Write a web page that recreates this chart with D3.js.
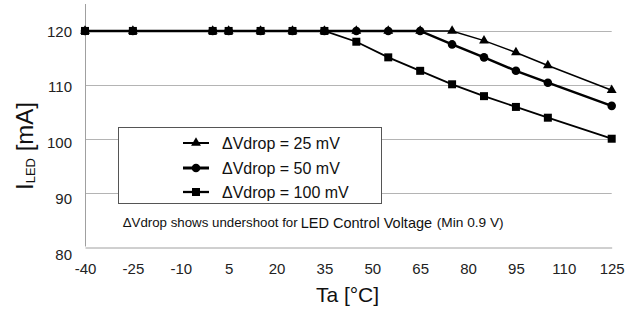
<!DOCTYPE html>
<html>
<head>
<meta charset="utf-8">
<script src="https://cdn.jsdelivr.net/npm/d3@7"></script>
<style>
  body { margin: 0; background: white; }
  svg, svg text { font-family: "Liberation Sans", Arial, sans-serif; }
  svg { display: block; }
  .grid { stroke: #b4b4b4; stroke-width: 1; }
  .axisline { stroke: #a0a0a0; stroke-width: 1; }
  .tick text { fill: #222; font-size: 15px; }
</style>
</head>
<body>
<div id="chart"></div>
<script>
// temperatures (°C) measured
var temps = [-40, -25, 0, 5, 15, 25, 35, 45, 55, 65, 75, 85, 95, 105, 125];
// I_LED (mA) for each drop
var drop25  = [120, 120, 120, 120, 120, 120, 120, 120, 120, 120, 120, 118.2, 116.0, 113.6, 109.0];
var drop50  = [120, 120, 120, 120, 120, 120, 120, 120, 120, 120, 117.5, 115.1, 112.6, 110.4, 106.1];
var drop100 = [120, 120, 120, 120, 120, 120, 120, 118.0, 115.1, 112.6, 110.1, 107.9, 105.9, 103.9, 100.0];

var seriesNames = ["\u0394Vdrop = 25 mV", "\u0394Vdrop = 50 mV", "\u0394Vdrop = 100 mV"];
var xTicks = [-40, -25, -10, 5, 20, 35, 50, 65, 80, 95, 110, 125];
var yTicks = [80, 90, 100, 110, 120];
var gridTicks = [90, 100, 110, 120];

var width = 642, height = 311;

var x = d3.scaleLinear().domain([-40, 125]).range([85, 611.7]);
var y = d3.scaleLinear().domain([80, 125]).range([246.5, 4]);
// labels in the source sit slightly lower than their gridlines
var yLab = d3.scaleLinear().domain([80, 120]).range([254.5, 31.3]);

var svg = d3.select("#chart").append("svg")
    .attr("width", width)
    .attr("height", height);

// gridlines
svg.selectAll("line.grid")
    .data(gridTicks)
    .enter().append("line")
    .attr("class", "grid")
    .attr("x1", x(-40)).attr("x2", x(125))
    .attr("y1", function(d) { return Math.round(y(d)) + 0.5; })
    .attr("y2", function(d) { return Math.round(y(d)) + 0.5; });

// left axis line
svg.append("line").attr("class", "axisline")
    .attr("x1", Math.round(x(-40)) + 0.5).attr("x2", Math.round(x(-40)) + 0.5)
    .attr("y1", y(125)).attr("y2", y(80));

// x axis
var xAxis = svg.append("g")
    .attr("transform", "translate(0," + (Math.round(y(80)) + 0.5) + ")")
    .call(d3.axisBottom(x).tickValues(xTicks).tickSize(0).tickPadding(16).tickFormat(function(d) { return String(d); }));
xAxis.attr("font-family", null).attr("font-size", null);
xAxis.select(".domain").attr("stroke", "#a0a0a0");

// y axis labels
var yAxis = svg.append("g")
    .attr("transform", "translate(85,0)")
    .call(d3.axisLeft(yLab).tickValues(yTicks).tickSize(0).tickPadding(13).tickFormat(function(d) { return String(d); }));
yAxis.attr("font-family", null).attr("font-size", null);
yAxis.select(".domain").remove();

// series
var series = [
    { name: seriesNames[0], values: drop25, symbol: d3.symbolTriangle, size: 42, width: 1.5 },
    { name: seriesNames[1], values: drop50, symbol: d3.symbolCircle, size: 58, width: 2.5 },
    { name: seriesNames[2], values: drop100, symbol: d3.symbolSquare, size: 64, width: 1.8 }
];

var line = d3.line()
    .x(function(d, i) { return x(temps[i]); })
    .y(function(d) { return y(d); });

series.forEach(function(s) {
    svg.append("path")
        .attr("d", line(s.values))
        .attr("fill", "none")
        .attr("stroke", "#000")
        .attr("stroke-width", s.width);
    var sym = d3.symbol().type(s.symbol).size(s.size);
    svg.selectAll(null)
        .data(s.values)
        .enter().append("path")
        .attr("d", sym)
        .attr("fill", "#000")
        .attr("transform", function(d, i) { return "translate(" + x(temps[i]) + "," + y(d) + ")"; });
});

// legend
var legend = svg.append("g");
legend.append("rect")
    .attr("x", 118.5).attr("y", 127.5)
    .attr("width", 263).attr("height", 76)
    .attr("fill", "white")
    .attr("stroke", "#555")
    .attr("stroke-width", 1);

var rowY = [143, 168, 192];
series.forEach(function(s, i) {
    var g = legend.append("g").attr("transform", "translate(0," + rowY[i] + ")");
    g.append("line")
        .attr("x1", 183).attr("x2", 209)
        .attr("stroke", "#000").attr("stroke-width", s.width + 0.5);
    g.append("path")
        .attr("d", d3.symbol().type(s.symbol).size(s.size)())
        .attr("transform", "translate(196,0)");
    g.append("text")
        .attr("x", 222).attr("y", 5.8)
        .attr("font-size", "16px")
        .attr("fill", "#111")
        .text(s.name);
});

// note
svg.append("text")
    .attr("x", 122.7).attr("y", 227)
    .attr("font-size", "12.5px").attr("fill", "#111")
    .attr("textLength", 175).attr("lengthAdjust", "spacingAndGlyphs")
    .text("\u0394Vdrop shows undershoot for");
svg.append("text")
    .attr("x", 300.7).attr("y", 227.5)
    .attr("font-size", "14.5px").attr("fill", "#111")
    .text("LED Control Voltage");
svg.append("text")
    .attr("x", 436.7).attr("y", 227)
    .attr("font-size", "13px").attr("fill", "#111")
    .attr("textLength", 67).attr("lengthAdjust", "spacingAndGlyphs")
    .text("(Min 0.9 V)");

// axis titles
svg.append("text")
    .attr("x", 347.5).attr("y", 302)
    .attr("text-anchor", "middle")
    .attr("font-size", "21px").attr("fill", "#111")
    .text("Ta [\u00b0C]");

var yTitle = svg.append("text")
    .attr("transform", "translate(33,146) rotate(-90)")
    .attr("text-anchor", "middle")
    .attr("font-size", "24px").attr("fill", "#111");
yTitle.append("tspan").text("I");
yTitle.append("tspan").attr("font-size", "13px").attr("dy", 1.5).text("LED");
yTitle.append("tspan").attr("dy", -1.5).text(" [mA]");
</script>
</body>
</html>
